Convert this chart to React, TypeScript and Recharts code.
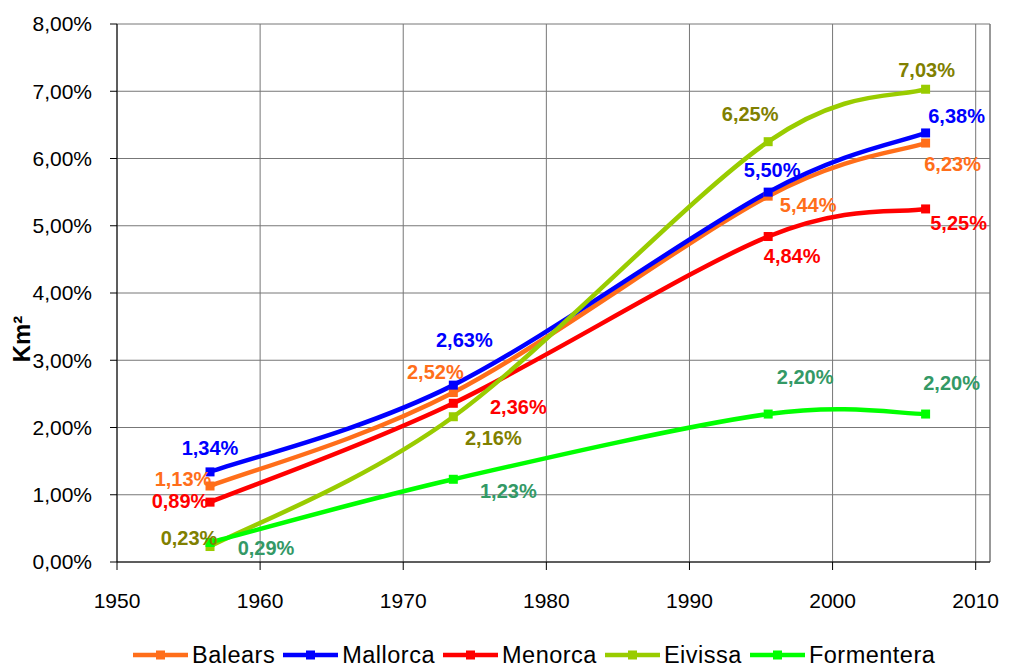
import React from "react"
import {
  LineChart,
  Line,
  XAxis,
  YAxis,
  CartesianGrid,
  ReferenceLine,
} from "recharts"

// Survey years (mid-year) and urban share per island, in %
const years = [1956.5, 1973.5, 1995.5, 2006.5]
const balears = [1.13, 2.52, 5.44, 6.23]
const mallorca = [1.34, 2.63, 5.5, 6.38]
const menorca = [0.89, 2.36, 4.84, 5.25]
const eivissa = [0.23, 2.16, 6.25, 7.03]
const formentera = [0.29, 1.23, 2.2, 2.2]

const xTicks = [1950, 1960, 1970, 1980, 1990, 2000, 2010]
const yTicks = [0, 1, 2, 3, 4, 5, 6, 7, 8]

const data = years.map((year, i) => ({
  year,
  Balears: balears[i],
  Mallorca: mallorca[i],
  Menorca: menorca[i],
  Eivissa: eivissa[i],
  Formentera: formentera[i],
}))

const FONT = "'Liberation Sans', Arial, sans-serif"

// label offsets (dx, dy) from each point, per series
const series = [
  { key: "Balears", color: "#FF6E1A", labelColor: "#FF6E1A", offsets: [[-27, -7], [-18, -21], [40, 9], [27, 21]] },
  { key: "Mallorca", color: "#0000FF", labelColor: "#0000FF", offsets: [[0, -24], [11, -45], [4, -22], [31, -17]] },
  { key: "Menorca", color: "#FF0000", labelColor: "#FF0000", offsets: [[-30, -1], [65, 4], [24, 19], [33, 14]] },
  { key: "Eivissa", color: "#99CC00", labelColor: "#808000", offsets: [[-21, -9], [40, 21], [-18, -28], [1, -19]] },
  { key: "Formentera", color: "#00FF00", labelColor: "#339966", offsets: [[56, 6], [55, 12], [37, -37], [26, -31]] },
]

const fmt = (v: number) => v.toFixed(2).replace(".", ",") + "%"

// Excel-like smoothed line: cubic bezier through points, 1/6 tangents
const excelCurve = (context: any) => {
  let pts: number[][] = []
  return {
    areaStart() {},
    areaEnd() {},
    lineStart() {
      pts = []
    },
    point(x: number, y: number) {
      pts.push([+x, +y])
    },
    lineEnd() {
      const n = pts.length
      if (!n) return
      context.moveTo(pts[0][0], pts[0][1])
      for (let i = 0; i < n - 1; i++) {
        const p0 = pts[Math.max(i - 1, 0)]
        const p1 = pts[i]
        const p2 = pts[i + 1]
        const p3 = pts[Math.min(i + 2, n - 1)]
        context.bezierCurveTo(
          p1[0] + (p2[0] - p0[0]) / 6,
          p1[1] + (p2[1] - p0[1]) / 6,
          p2[0] - (p3[0] - p1[0]) / 6,
          p2[1] - (p3[1] - p1[1]) / 6,
          p2[0],
          p2[1]
        )
      }
    },
  }
}

const YLabel = () => (
  <text
    x={21}
    y={339}
    transform="rotate(-90 21 339)"
    textAnchor="middle"
    dominantBaseline="central"
    fontFamily={FONT}
    fontSize={24}
    fontWeight="bold"
    fill="#000"
  >
    Km²
  </text>
)

const LegendRow = () => (
  <div
    style={{
      position: "absolute",
      left: 133,
      top: 642,
      display: "flex",
      alignItems: "center",
      fontFamily: FONT,
      fontSize: 23.5,
      letterSpacing: 0.5,
      color: "#000",
      lineHeight: "26px",
    }}
  >
    {series.map((s) => (
      <div key={s.key} style={{ display: "flex", alignItems: "center", marginRight: 8 }}>
        <svg width={55} height={12} style={{ marginRight: 4 }}>
          <line x1={0} y1={6} x2={55} y2={6} stroke={s.color} strokeWidth={4.5} />
          <rect x={23} y={1.5} width={9} height={9} fill={s.color} />
        </svg>
        <span>{s.key}</span>
      </div>
    ))}
  </div>
)

export default function App() {
  return (
    <div style={{ position: "absolute", left: 0, top: 0, width: 1009, height: 666, background: "#fff" }}>
      <LineChart
        width={1009}
        height={666}
        data={data}
        margin={{ top: 24, right: 19, bottom: 0, left: 0 }}
      >
        <CartesianGrid stroke="#777" strokeWidth={1} />
        <ReferenceLine x={2011} stroke="#777" strokeWidth={1} />
        <XAxis
          dataKey="year"
          type="number"
          domain={[1950, 2011]}
          ticks={xTicks}
          interval={0}
          height={104}
          tickSize={8}
          tickMargin={23}
          axisLine={{ stroke: "#000" }}
          tickLine={{ stroke: "#000" }}
          tick={{ fontSize: 21, fill: "#000", fontFamily: FONT }}
          allowDataOverflow
        />
        <YAxis
          type="number"
          domain={[0, 8]}
          ticks={yTicks}
          interval={0}
          width={117}
          tickSize={7}
          tickMargin={18}
          tickFormatter={fmt}
          axisLine={{ stroke: "#000" }}
          tickLine={{ stroke: "#000" }}
          tick={{ fontSize: 21, fill: "#000", fontFamily: FONT }}
        />
        {series.map((s) => (
          <Line
            key={s.key}
            dataKey={s.key}
            type={excelCurve as any}
            stroke={s.color}
            strokeWidth={4.5}
            isAnimationActive={false}
            dot={(p: any) => (
              <rect
                key={`${s.key}-dot-${p.index}`}
                x={p.cx - 4.5}
                y={p.cy - 4.5}
                width={9}
                height={9}
                fill={s.color}
              />
            )}
            activeDot={false}
            label={(p: any) => {
              const [dx, dy] = s.offsets[p.index] || [0, 0]
              return (
                <text
                  key={`${s.key}-lbl-${p.index}`}
                  x={p.x + dx}
                  y={p.y + dy}
                  textAnchor="middle"
                  dominantBaseline="central"
                  fontFamily={FONT}
                  fontSize={20}
                  fontWeight="bold"
                  fill={s.labelColor}
                >
                  {fmt(p.value)}
                </text>
              )
            }}
          />
        ))}
        <YLabel />
      </LineChart>
      <LegendRow />
    </div>
  )
}
